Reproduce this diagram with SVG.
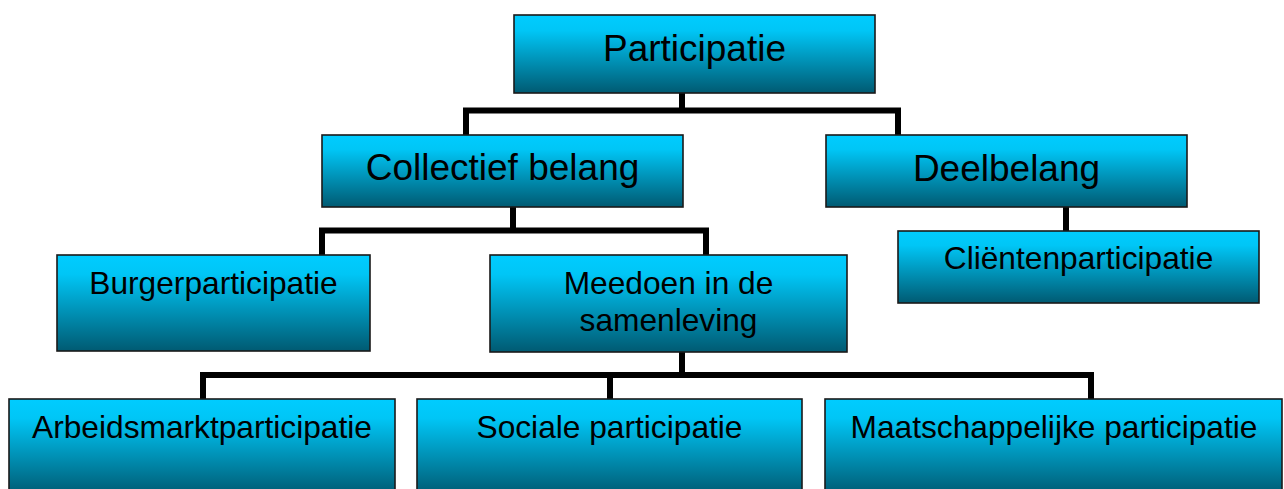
<svg xmlns="http://www.w3.org/2000/svg" width="1284" height="489" viewBox="0 0 1284 489">
  <defs>
    <linearGradient id="g" x1="0" y1="0" x2="0" y2="1">
      <stop offset="0" stop-color="#00CCFF"/>
      <stop offset="0.2" stop-color="#00C6F6"/>
      <stop offset="1" stop-color="#005A72"/>
    </linearGradient>
    <style>
      rect.box { fill: url(#g); stroke: #1a1a1a; stroke-width: 1.6; }
      text { font-family: "Liberation Sans", Arial, sans-serif; fill: #000; text-anchor: middle; }
      .l1 { font-size: 37px; }
      .l2 { font-size: 31.7px; }
      .conn { fill: none; stroke: #000; stroke-width: 6; stroke-linejoin: miter; stroke-linecap: butt; }
    </style>
  </defs>
  <rect width="1284" height="489" fill="#ffffff"/>

  <g id="connectors">
    <path class="conn" d="M682 93 V110.5 M466 136 V110.5 H898 V136"/>
    <path class="conn" d="M513 207 V230.5 M322 255 V230.5 H706 V255"/>
    <path class="conn" d="M1066 207 V231"/>
    <path class="conn" d="M682 352 V375 M203 399 V375 H1091 V399 M610 375 V399"/>
  </g>

  <g id="participatie">
    <rect class="box" x="514" y="15" width="361" height="78"/>
    <text class="l1" x="694.5" y="61">Participatie</text>
  </g>
  <g id="collectief-belang">
    <rect class="box" x="322" y="135" width="361" height="72"/>
    <text class="l1" x="502.5" y="180">Collectief belang</text>
  </g>
  <g id="deelbelang">
    <rect class="box" x="826" y="135" width="361" height="72"/>
    <text class="l1" x="1006.5" y="181">Deelbelang</text>
  </g>
  <g id="clientenparticipatie">
    <rect class="box" x="898" y="231" width="361" height="72"/>
    <text class="l2" x="1078.5" y="269">Cliëntenparticipatie</text>
  </g>
  <g id="burgerparticipatie">
    <rect class="box" x="57" y="255" width="313" height="96"/>
    <text class="l2" x="213.5" y="294">Burgerparticipatie</text>
  </g>
  <g id="meedoen">
    <rect class="box" x="490" y="255" width="357" height="97"/>
    <text class="l2" x="668.5" y="294">Meedoen in de</text>
    <text class="l2" x="668.5" y="331">samenleving</text>
  </g>
  <g id="arbeidsmarktparticipatie">
    <rect class="box" x="9" y="399" width="386" height="96"/>
    <text class="l2" x="202" y="438">Arbeidsmarktparticipatie</text>
  </g>
  <g id="sociale-participatie">
    <rect class="box" x="417" y="399" width="385" height="96"/>
    <text class="l2" x="609.5" y="438">Sociale participatie</text>
  </g>
  <g id="maatschappelijke-participatie">
    <rect class="box" x="825" y="399" width="457" height="96"/>
    <text class="l2" x="1054" y="438">Maatschappelijke participatie</text>
  </g>
</svg>
